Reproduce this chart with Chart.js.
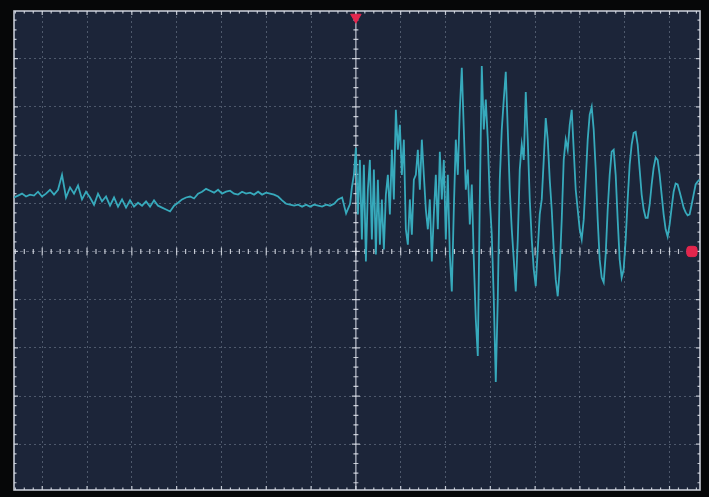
<!DOCTYPE html>
<html>
<head>
<meta charset="utf-8">
<script src="https://cdn.jsdelivr.net/npm/chart.js@4.4.1/dist/chart.umd.min.js"></script>
<style>
  html, body { margin: 0; padding: 0; background: #060708; }
  #wrap { width: 709px; height: 497px; }
</style>
</head>
<body>
<div id="wrap"><canvas id="scope" width="709" height="497"></canvas></div>
<script>
// visible screen, in divisions (0,0 = trigger point / channel ground)
var X_MIN = -7.63, X_MAX = 7.68;
var Y_MIN = -4.95, Y_MAX = 4.99;

// pre-trigger part of the record (coarser sampling)
var PRE_T0 = -7.63;
var PRE_DT = 0.0893;
var preTrigger = [
  1.12, 1.16, 1.20, 1.14, 1.18, 1.16, 1.24, 1.14, 1.20, 1.28,
  1.18, 1.28, 1.59, 1.12, 1.33, 1.20, 1.37, 1.08, 1.24, 1.12,
  0.97, 1.20, 1.04, 1.14, 0.95, 1.12, 0.93, 1.08, 0.91, 1.06,
  0.93, 1.01, 0.95, 1.04, 0.93, 1.06, 0.95, 0.91, 0.87, 0.83,
  0.95, 1.01, 1.08, 1.12, 1.14, 1.10, 1.20, 1.24, 1.30, 1.26,
  1.22, 1.28, 1.20, 1.24, 1.26, 1.20, 1.18, 1.24, 1.20, 1.22,
  1.18, 1.24, 1.18, 1.22, 1.20, 1.18, 1.14, 1.06, 0.99, 0.97,
  0.95, 0.97, 0.93, 0.97, 0.93, 0.97, 0.95, 0.93, 0.97, 0.95,
  0.99, 1.08, 1.12, 0.79, 0.99
];

// post-trigger part (finer sampling)
var POST_T0 = -0.089;
var POST_DT = 0.0446;
var postTrigger = [
  1.33, 1.59, 2.15, 0.77, 1.90, 0.25, 1.80, -0.21, 1.28, 1.90,
  0.25, 1.70, -0.06, 1.49, 0.14, 1.08, 0.04, 1.18, 1.59, 0.77,
  2.11, 1.08, 2.94, 2.11, 2.63, 1.59, 2.32, 0.46, 0.14, 1.08,
  0.35, 1.49, 1.59, 2.11, 1.28, 2.32, 1.59, 0.87, 0.46, 1.08,
  -0.21, 0.77, 1.59, 0.46, 2.07, 1.08, 1.90, 0.25, 1.59, -0.06,
  -0.83, 0.87, 2.32, 1.59, 2.94, 3.81, 2.53, 1.28, 1.70, 0.56,
  1.39, -0.17, -1.41, -2.17, 1.08, 3.85, 2.53, 3.15, 2.32, 1.08,
  0.35, -0.99, -2.71, -0.99, 1.49, 2.53, 3.15, 3.73, 2.53, 1.28,
  0.46, -0.17, -0.83, 0.25, 1.70, 2.22, 1.90, 3.31, 2.32, 1.08,
  0.25, -0.37, -0.72, 0.04, 0.77, 1.08, 1.90, 2.77, 2.32, 1.49,
  0.87, 0.04, -0.58, -0.93, -0.37, 0.66, 1.90, 2.32, 2.11, 2.63,
  2.94, 2.11, 1.28, 0.87, 0.46, 0.25, 0.66, 1.49, 2.32, 2.84,
  3.00, 2.53, 1.70, 0.66, -0.17, -0.54, -0.64, -0.06, 0.87, 1.59,
  2.07, 2.11, 1.59, 0.66, -0.17, -0.54, -0.37, 0.25, 1.08, 1.80,
  2.22, 2.46, 2.48, 2.22, 1.70, 1.18, 0.87, 0.70, 0.70, 0.97,
  1.39, 1.74, 1.95, 1.90, 1.59, 1.18, 0.77, 0.46, 0.31, 0.56,
  0.91, 1.24, 1.41, 1.39, 1.24, 1.08, 0.91, 0.81, 0.75, 0.77,
  0.97, 1.18, 1.39, 1.45, 1.49
];

// trigger position (top) and channel ground marker (right)
var triggerMark = [{ x: 0, y: 4.86 }];
var groundMark = [{ x: 7.5, y: 0 }];

var trace = [];
preTrigger.forEach(function (v, i) { trace.push({ x: PRE_T0 + i * PRE_DT, y: v }); });
postTrigger.forEach(function (v, i) { trace.push({ x: POST_T0 + i * POST_DT, y: v }); });

function intTicks(scale) {
  var t = [];
  for (var v = Math.ceil(scale.min); v <= Math.floor(scale.max); v++) t.push({ value: v });
  scale.ticks = t;
}

// screen background, centre axes, minor ticks and frame
var graticule = {
  id: 'graticule',
  beforeDraw: function (chart) {
    var c = chart.ctx, a = chart.chartArea;
    c.save();
    c.fillStyle = '#060708';
    c.fillRect(0, 0, chart.width, chart.height);
    c.fillStyle = '#1c2539';
    c.fillRect(a.left, a.top, a.right - a.left, a.bottom - a.top);
    c.restore();
  },
  beforeDatasetsDraw: function (chart) {
    var c = chart.ctx, a = chart.chartArea;
    var xs = chart.scales.x, ys = chart.scales.y;
    var x0 = xs.getPixelForValue(0), y0 = ys.getPixelForValue(0);
    var k, p, len;
    c.save();
    // centre lines
    c.strokeStyle = 'rgba(205,212,225,0.4)';
    c.lineWidth = 1;
    c.setLineDash([3, 3]);
    c.beginPath();
    c.moveTo(a.left, y0); c.lineTo(a.right, y0);
    c.stroke();
    c.setLineDash([]);
    c.strokeStyle = 'rgba(230,234,242,0.8)';
    c.lineWidth = 1.2;
    c.beginPath();
    c.moveTo(x0, a.top); c.lineTo(x0, a.bottom);
    c.stroke();
    // minor ticks on centre axes and frame
    c.strokeStyle = 'rgba(232,236,244,0.8)';
    c.lineWidth = 1.2;
    c.beginPath();
    for (k = Math.ceil(X_MIN * 5); k <= Math.floor(X_MAX * 5); k++) {
      p = xs.getPixelForValue(k / 5);
      len = k % 5 === 0 ? 4 : 2.5;
      c.moveTo(p, y0 - len); c.lineTo(p, y0 + len);
      c.moveTo(p, a.top); c.lineTo(p, a.top + len);
      c.moveTo(p, a.bottom); c.lineTo(p, a.bottom - len);
    }
    for (k = Math.ceil(Y_MIN * 5); k <= Math.floor(Y_MAX * 5); k++) {
      p = ys.getPixelForValue(k / 5);
      len = k % 5 === 0 ? 4 : 2.5;
      c.moveTo(x0 - len, p); c.lineTo(x0 + len, p);
      c.moveTo(a.left, p); c.lineTo(a.left + len, p);
      c.moveTo(a.right, p); c.lineTo(a.right - len, p);
    }
    c.stroke();
    // frame
    c.strokeStyle = 'rgba(215,220,230,0.9)';
    c.lineWidth = 1.6;
    c.strokeRect(a.left, a.top, a.right - a.left, a.bottom - a.top);
    c.restore();
  }
};

var gridColor = function (ctx) {
  return ctx.tick && ctx.tick.value === 0 ? 'rgba(0,0,0,0)' : 'rgba(170,182,200,0.36)';
};

new Chart(document.getElementById('scope'), {
  type: 'line',
  data: {
    datasets: [
      { data: trace, borderColor: '#37aabc', borderWidth: 1.8, pointRadius: 0, tension: 0, order: 2 },
      { type: 'scatter', data: triggerMark, pointStyle: 'triangle', rotation: 180, radius: 6,
        backgroundColor: '#e3264d', borderColor: '#e3264d', clip: false, order: 1 },
      { type: 'scatter', data: groundMark, pointStyle: 'rectRounded', radius: 6,
        backgroundColor: '#e3264d', borderColor: '#e3264d', clip: false, order: 1 }
    ]
  },
  options: {
    responsive: false,
    animation: false,
    events: [],
    layout: { padding: { left: 14, right: 9, top: 11, bottom: 6 } },
    plugins: { legend: { display: false }, tooltip: { enabled: false } },
    scales: {
      x: {
        type: 'linear', min: X_MIN, max: X_MAX,
        afterBuildTicks: intTicks,
        ticks: { display: false },
        grid: { color: gridColor, lineWidth: 1, drawTicks: false },
        border: { display: false, dash: [2, 3] }
      },
      y: {
        type: 'linear', min: Y_MIN, max: Y_MAX,
        afterBuildTicks: intTicks,
        ticks: { display: false },
        grid: { color: gridColor, lineWidth: 1, drawTicks: false },
        border: { display: false, dash: [2, 3] }
      }
    }
  },
  plugins: [graticule]
});
</script>
</body>
</html>
